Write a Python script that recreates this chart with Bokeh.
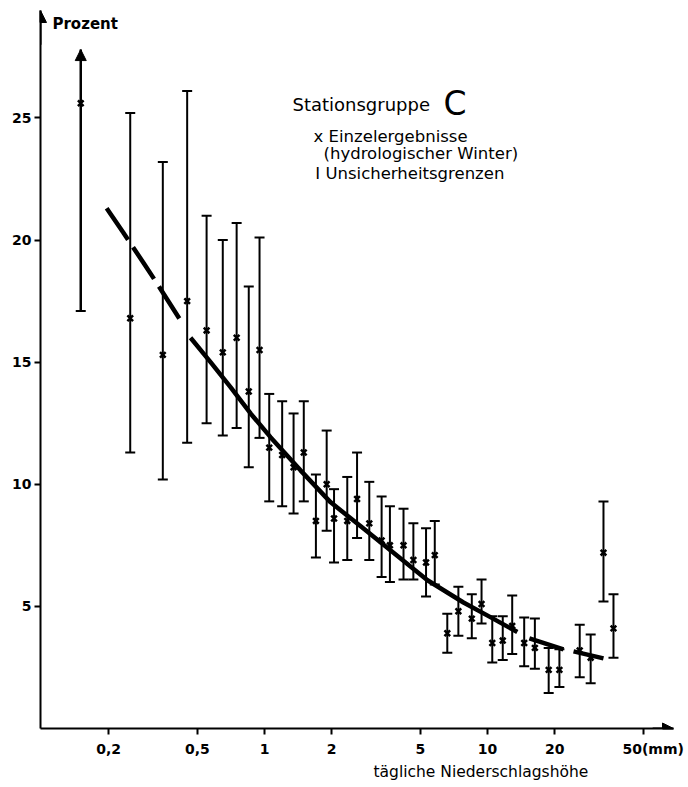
from bokeh.plotting import figure
from bokeh.models import (ColumnDataSource, Whisker, TeeHead, NormalHead, Arrow,
                          Label, FixedTicker, Range1d, Title)
from bokeh.embed import file_html
from bokeh.resources import INLINE

# ---- data ----
precip_mm = [0.15, 0.25, 0.35, 0.45, 0.55, 0.65, 0.75, 0.85, 0.95, 1.05,
             1.2, 1.35, 1.5, 1.7, 1.9, 2.05, 2.35, 2.6, 2.95, 3.35,
             3.65, 4.2, 4.65, 5.3, 5.8, 6.6, 7.4, 8.5, 9.4, 10.5,
             11.7, 12.9, 14.6, 16.3, 18.8, 21.0, 25.9, 29.0, 33.1, 36.7]
percent = [25.6, 16.8, 15.3, 17.5, 16.3, 15.4, 16.0, 13.8, 15.5, 11.5,
           11.2, 10.7, 11.3, 8.5, 10.0, 8.6, 8.5, 9.4, 8.4, 7.7,
           7.5, 7.5, 6.9, 6.8, 7.1, 3.9, 4.8, 4.5, 5.1, 3.5,
           3.6, 4.2, 3.5, 3.3, 2.4, 2.4, 3.2, 2.9, 7.2, 4.1]
upper = [27.8, 25.2, 23.2, 26.1, 21.0, 20.0, 20.7, 18.1, 20.1, 13.7,
         13.4, 12.9, 13.4, 10.4, 12.2, 9.8, 10.3, 11.3, 10.1, 9.5,
         9.1, 9.0, 8.4, 8.2, 8.5, 4.7, 5.8, 5.5, 6.1, 4.6,
         4.6, 5.45, 4.55, 4.5, 3.3, 3.25, 4.25, 3.85, 9.3, 5.5]
lower = [17.1, 11.3, 10.2, 11.7, 12.5, 12.0, 12.3, 10.7, 11.9, 9.3,
         9.1, 8.8, 9.3, 7.0, 8.1, 6.8, 6.9, 7.8, 6.9, 6.2,
         6.0, 6.1, 6.1, 5.4, 5.9, 3.1, 3.8, 3.7, 4.3, 2.7,
         2.8, 3.05, 2.55, 2.45, 1.45, 1.7, 2.1, 1.85, 5.2, 2.9]
open_upper = [True] + [False] * 39   # first interval open upwards (arrow)

fit_dash_x = [0.196, 0.233, 0.287, 0.331, 0.425]
fit_dash_y = [21.3, 20.3, 19.06, 18.2, 16.64]
nan = float("nan")
fit_x = [0.466, 0.573, 0.704, 0.866, 1.064, 1.45, 1.98, 2.70, 3.42, 5.38,
         7.80, 10.3, 13.6, nan, 15.4, 21.9, nan, 24.3, 33.1]
fit_y = [16.0, 15.0, 13.98, 12.9, 11.93, 10.57, 9.26, 8.28, 7.52, 6.07,
         5.16, 4.56, 3.95, nan, 3.69, 3.24, nan, 3.16, 2.87]

x_ticks = [0.2, 0.5, 1, 2, 5, 10, 20, 50]
x_tick_labels = ["0,2", "0,5", "1", "2", "5", "10", "20",
                 "\u00a0" * 4 + "50(mm)"]
y_ticks = [5, 10, 15, 20, 25]

FONT = "DejaVu Sans"

p = figure(width=688, height=787, x_axis_type="log",
           x_range=Range1d(0.099, 68.2), y_range=Range1d(0, 29.4),
           output_backend="svg", toolbar_location=None,
           min_border_left=40, min_border_right=15,
           min_border_top=10, min_border_bottom=59)
p.outline_line_color = None
p.xgrid.grid_line_color = None
p.ygrid.grid_line_color = None
p.background_fill_color = "white"
p.border_fill_color = "white"

for ax in (p.xaxis[0], p.yaxis[0]):
    ax.axis_line_width = 2
    ax.axis_line_color = "black"
    ax.major_tick_line_width = 2
    ax.major_tick_in = 0
    ax.major_tick_out = 6
    ax.minor_tick_line_color = None
    ax.major_label_text_font = FONT
    ax.major_label_text_font_size = "14px"
    ax.major_label_text_font_style = "bold"
    ax.major_label_text_color = "black"

p.xaxis.ticker = FixedTicker(ticks=x_ticks)
p.xaxis.major_label_overrides = {t: l for t, l in zip(x_ticks, x_tick_labels)}
p.xaxis.major_label_standoff = 6
p.yaxis.ticker = FixedTicker(ticks=y_ticks)
p.yaxis.major_label_standoff = 3

# closed intervals
src = ColumnDataSource(dict(
    x=[x for x, o in zip(precip_mm, open_upper) if not o],
    up=[u for u, o in zip(upper, open_upper) if not o],
    lo=[l for l, o in zip(lower, open_upper) if not o]))
p.add_layout(Whisker(base="x", upper="up", lower="lo", source=src,
                     line_width=2, line_color="black",
                     upper_head=TeeHead(size=10, line_width=2),
                     lower_head=TeeHead(size=10, line_width=2)))
# open interval (arrow upwards)
src_open = ColumnDataSource(dict(
    x=[x for x, o in zip(precip_mm, open_upper) if o],
    up=[u for u, o in zip(upper, open_upper) if o],
    lo=[l for l, o in zip(lower, open_upper) if o]))
p.add_layout(Whisker(base="x", upper="up", lower="lo", source=src_open,
                     line_width=2.5, line_color="black",
                     upper_head=NormalHead(size=11, fill_color="black", line_color="black"),
                     lower_head=TeeHead(size=10, line_width=2)))

p.scatter(precip_mm, percent, marker="x", size=8, line_width=2.5, color="black")

p.line(fit_dash_x, fit_dash_y, line_width=4.5, color="black", line_dash="38 9")
p.line(fit_x, fit_y, line_width=4.5, color="black")

# axis arrows
p.add_layout(Arrow(end=NormalHead(size=12, fill_color="black", line_color="black"),
                   x_start=0.099, y_start=28.0, x_end=0.099, y_end=29.4,
                   line_width=2, line_color="black"))
p.add_layout(Arrow(end=NormalHead(size=11, fill_color="black", line_color="black"),
                   x_start=55, y_start=0, x_end=68.2, y_end=0,
                   line_width=2, line_color="black"))

def lab(x, y, text, size="14px", style="normal", align="left"):
    p.add_layout(Label(x=x, y=y, text=text, text_font=FONT, text_font_size=size,
                       text_font_style=style, text_align=align,
                       text_baseline="middle", text_color="black"))

lab(0.112, 28.85, "Prozent", size="15px", style="bold")
lab(1.335, 25.55, "Stationsgruppe", size="18px")
lab(6.35, 25.6, "C", size="33px")
lab(1.66, 24.24, "x Einzelergebnisse", size="16.5px")
lab(1.84, 23.55, "(hydrologischer Winter)", size="16.5px")
lab(1.69, 22.73, "I Unsicherheitsgrenzen", size="16.5px")

xt = Title(text="tägliche Niederschlagshöhe", align="left", offset=333,
           text_font=FONT, text_font_size="15.5px", text_font_style="normal",
           text_color="black", standoff=2)
p.add_layout(xt, "below")

open("out.html", "w").write(file_html(p, INLINE))
